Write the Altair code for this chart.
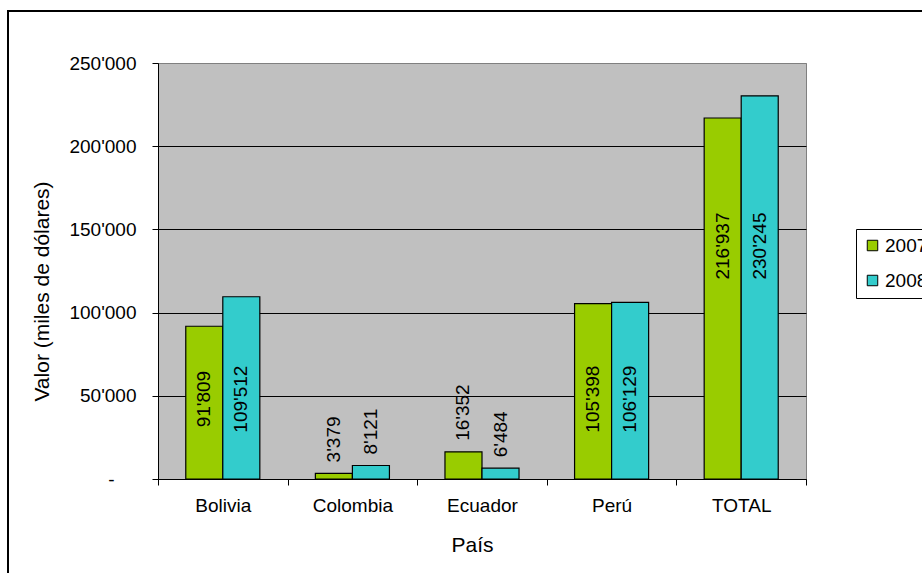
import altair as alt
import pandas as pd

# Exportaciones por país (miles de dólares)
paises = ["Bolivia", "Colombia", "Ecuador", "Perú", "TOTAL"]
anios = ["2007", "2008"]
valores_2007 = [91809, 3379, 16352, 105398, 216937]
valores_2008 = [109512, 8121, 6484, 106129, 230245]
colores = ["#99CC00", "#33CCCC"]
marcas_y = [0, 50000, 100000, 150000, 200000, 250000]

filas = []
for anio, serie in zip(anios, [valores_2007, valores_2008]):
    for pais, v in zip(paises, serie):
        filas.append({
            "pais": pais,
            "anio": anio,
            "valor": v,
            "etiqueta": f"{v:,}".replace(",", "'"),
        })
df = pd.DataFrame(filas)

W, H = 648, 416
FONT = "Liberation Sans"
FS = 19      # etiquetas
FS_T = 21    # títulos de ejes

x_axis = alt.Axis(
    title="País",
    tickBand="extent",
    labelAngle=0,
    labelPadding=11,
    tickSize=6,
    tickColor="black",
    domainColor="black",
    grid=False,
    titleX=314,
    titleY=66,
    titleAlign="center",
    titleBaseline="middle",
)
x_scale = alt.Scale(paddingInner=0, paddingOuter=0)
# Cada par de barras ocupa algo más de la mitad de su categoría, centrado
xoff_scale = alt.Scale(paddingInner=0, paddingOuter=0.75)

etiqueta_y = (
    "datum.value == 0 ? '-' : "
    "replace(format(datum.value, ','), regexp(',', 'g'), \"'\")"
)

y_scale = alt.Scale(domain=[0, 250000], nice=False)
y_axis = alt.Axis(
    title="Valor (miles de dólares)",
    values=marcas_y,
    labelExpr=etiqueta_y,
    labelPadding=alt.condition("datum.value == 0", alt.value(38), alt.value(16)),
    tickSize=6,
    tickColor="black",
    domainColor="black",
    grid=True,
    gridColor=alt.condition("datum.value == 250000", alt.value("#808080"), alt.value("black")),
    gridWidth=1,
    titleX=-116,
    titleY=228,
    titleAngle=270,
    titleAlign="center",
    titleBaseline="middle",
)


def enc_x():
    return alt.X("pais:N", sort=paises, scale=x_scale, axis=x_axis)


def enc_xoff():
    return alt.XOffset("anio:N", sort=anios, scale=xoff_scale)


base = alt.Chart(df)

barras = base.mark_bar(stroke="black", strokeWidth=1.2).encode(
    x=enc_x(),
    xOffset=enc_xoff(),
    y=alt.Y("valor:Q", scale=y_scale, axis=y_axis),
    color=alt.Color(
        "anio:N",
        sort=anios,
        scale=alt.Scale(domain=anios, range=colores),
        legend=alt.Legend(
            title=None,
            orient="none",
            legendX=698,
            legendY=166,
            strokeColor="black",
            fillColor="white",
            padding=7,
            symbolType="square",
            symbolSize=110,
            symbolStrokeColor="black",
            symbolStrokeWidth=1,
            symbolOpacity=1,
            labelFontSize=FS,
            labelFont=FONT,
            labelOffset=3,
            rowPadding=15,
        ),
    ),
)

# Etiquetas dentro de las barras altas, a una altura común
dentro = (
    base.transform_filter("datum.valor >= 50000")
    .transform_calculate(pos="datum.valor >= 150000 ? 140000 : 48000")
    .mark_text(angle=270, align="center", baseline="middle", fontSize=FS, font=FONT, color="black")
    .encode(
        x=enc_x(),
        xOffset=enc_xoff(),
        y=alt.Y("pos:Q", scale=y_scale, axis=y_axis),
        text="etiqueta:N",
    )
)

# Etiquetas sobre las barras bajas
fuera = (
    base.transform_filter("datum.valor < 50000")
    .mark_text(angle=270, align="left", baseline="middle", dx=11, fontSize=FS, font=FONT, color="black")
    .encode(
        x=enc_x(),
        xOffset=enc_xoff(),
        y=alt.Y("valor:Q", scale=y_scale, axis=y_axis),
        text="etiqueta:N",
    )
)

# Marco exterior del gráfico
marco = alt.Chart(pd.DataFrame({"k": [0]})).mark_rect(filled=False, stroke="black", strokeWidth=2).encode(
    x=alt.value(-150), x2=alt.value(W + 300), y=alt.value(-52), y2=alt.value(H + 300)
)

chart = (
    alt.layer(barras, dentro, fuera, marco)
    .properties(
        width=W,
        height=H,
        padding={"left": 158, "top": 63, "right": 116, "bottom": 94},
        autosize=alt.AutoSizeParams(type="none"),
        background="white",
    )
    .configure_view(fill="#C0C0C0", stroke="#808080", strokeWidth=1)
    .configure_axis(
        labelFont=FONT,
        labelFontSize=FS,
        labelColor="black",
        titleFont=FONT,
        titleFontSize=FS_T,
        titleFontWeight="normal",
        titleColor="black",
    )
)

chart.save("out.html", embed_options={"renderer": "svg", "actions": False})
